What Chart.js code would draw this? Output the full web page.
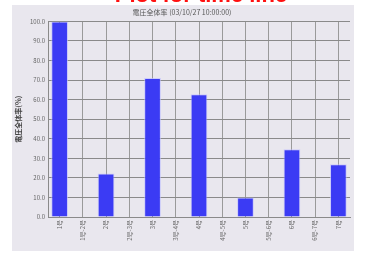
<!DOCTYPE html>
<html>
<head>
<meta charset="utf-8">
<script src="https://cdn.jsdelivr.net/npm/chart.js@4/dist/chart.umd.min.js"></script>
<style>
  html, body { margin: 0; padding: 0; background: #ffffff; overflow: hidden; }
  #wrap { position: relative; width: 366px; height: 254px; }
  #panel { position: absolute; left: 12px; top: 5px; width: 342px; height: 246px; background: #e9e7ee; }
  #banner { position: absolute; left: 0; top: -18px; width: 402px; text-align: center; line-height: 22px;
            font: bold 22px "Liberation Sans", Arial, sans-serif; color: #ff1010; z-index: 2; }
  #chart { position: absolute; left: 0; top: 0; }
</style>
</head>
<body>
<div id="wrap">
  <div id="panel"></div>
  <div id="banner">Plot for time line</div>
  <canvas id="chart" width="366" height="254"></canvas>
</div>
<script>
var categories = ["1号", "1号-2号", "2号", "2号-3号", "3号", "3号-4号", "4号",
                  "4号-5号", "5号", "5号-6号", "6号", "6号-7号", "7号"];
var rates = [100, 0, 22.3, 0, 71, 0, 62.7, 0, 10, 0, 34.7, 0, 27];
var yTicks = [0, 10, 20, 30, 40, 50, 60, 70, 80, 90, 100];

var chartTitle = "電圧全体率 (03/10/27 10:00:00)";
var yTitle = "電圧全体率(%)";

var ctx = document.getElementById("chart").getContext("2d");
var font = "'Noto Sans CJK JP', 'DejaVu Sans', sans-serif";

var chart = new Chart(ctx, {
  type: "bar",
  data: {
    labels: categories,
    datasets: [{
      data: rates,
      backgroundColor: "#3b3bf4",
      borderColor: "rgba(190,190,255,0.7)",
      borderWidth: 1,
      barPercentage: 0.72,
      categoryPercentage: 1
    }]
  },
  options: {
    responsive: false,
    animation: false,
    layout: { padding: { left: 14, right: 16, top: 3, bottom: 4 } },
    plugins: {
      legend: { display: false },
      tooltip: { enabled: false },
      title: {
        display: true,
        text: chartTitle,
        color: "#555555",
        font: { family: font, size: 7, weight: "normal" },
        padding: { top: 5, bottom: 5 }
      }
    },
    scales: {
      x: {
        offset: true,
        grid: { offset: false, color: "#9a9a9a", lineWidth: 1, drawTicks: false },
        border: { color: "#8a8a8a" },
        ticks: {
          color: "#666666",
          font: { family: font, size: 6 },
          minRotation: 90,
          maxRotation: 90,
          autoSkip: false,
          padding: 3
        },
        afterFit: function (scale) { scale.height = 33; }
      },
      y: {
        min: 0,
        max: 100,
        afterBuildTicks: function (scale) {
          scale.ticks = yTicks.map(function (v) { return { value: v }; });
        },
        grid: { color: "#8a8a8a", lineWidth: 1, drawTicks: false },
        border: { color: "#8a8a8a" },
        ticks: {
          color: "#666666",
          font: { family: font, size: 6 },
          padding: 3,
          callback: function (v) { return Number(v).toFixed(1); }
        },
        title: {
          display: true,
          text: yTitle,
          color: "#444444",
          font: { family: font, size: 7, weight: "bold" },
          padding: 0
        },
        afterFit: function (scale) { scale.width = 34; }
      }
    }
  }
});
</script>
</body>
</html>
